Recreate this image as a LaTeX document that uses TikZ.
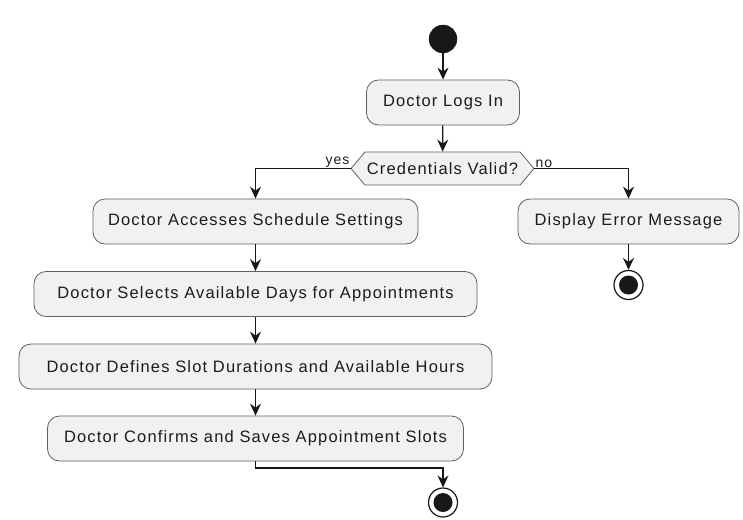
\documentclass[tikz,border=0pt]{standalone}
\usepackage{fontspec}
\setmainfont{Liberation Sans}[LetterSpace=7]
\usetikzlibrary{shapes.symbols, arrows.meta}
\definecolor{actfill}{HTML}{F1F1F1}
\definecolor{actline}{HTML}{606060}
\definecolor{flow}{HTML}{181818}
\definecolor{txt}{HTML}{1C1C1C}
\begin{document}
\begin{tikzpicture}[x=1pt, y=-1pt,
  action/.style={draw=actline, fill=actfill, rounded corners=12pt, line width=0.8pt,
    minimum height=45pt, inner xsep=10pt, inner ysep=0pt, text=txt,
    font=\fontsize{16.5}{19}\selectfont},
  decision/.style={signal, signal to=east and west, signal pointer angle=100,
    draw=actline, fill=actfill, line width=0.8pt, minimum height=33pt,
    inner xsep=2pt, inner ysep=0pt, text=txt, font=\fontsize{16.5}{19}\selectfont},
  startdot/.style={circle, fill=flow, draw=flow, minimum size=28pt, inner sep=0pt},
  enddot/.style={circle, draw=flow, fill=white, line width=1.2pt, minimum size=29pt,
    inner sep=0pt, path picture={\fill[flow] (path picture bounding box.center) circle (9.5pt);}},
  flowline/.style={draw=flow, line width=1.3pt, -{Stealth[length=12pt, width=11pt, inset=4pt]}},
  guard/.style={font=\fontsize{14}{16}\selectfont, text=txt, inner sep=1pt}
]
\useasboundingbox (0,0) rectangle (743,519);

% start and login
\node[startdot] (start) at (443,39) {};
\node[action, minimum width=153pt] (login) at (443,102.5) {Doctor Logs In};
\node[decision, minimum width=179pt] (cred) at (442.5,168.5) {Credentials Valid?};

% valid branch
\node[action, minimum width=325pt] (access) at (255.5,221.5) {Doctor Accesses Schedule Settings};
\node[action, minimum width=443pt] (select) at (255.5,294) {Doctor Selects Available Days for Appointments};
\node[action, minimum width=473pt] (define) at (255.5,366.5) {Doctor Defines Slot Durations and Available Hours};
\node[action, minimum width=416pt] (confirm) at (255.5,438.5) {Doctor Confirms and Saves Appointment Slots};
\node[enddot] (endok) at (443,502.5) {};

% invalid branch
\node[action, minimum width=221pt] (error) at (628.5,221.5) {Display Error Message};
\node[enddot] (enderr) at (628.5,285) {};

% connectors
\draw[flowline] (start) -- (login);
\draw[flowline] (login) -- (cred);
\draw[flowline] (cred.west) -| (access.north);
\draw[flowline] (cred.east) -| (error.north);
\draw[flowline] (error) -- (enderr);
\draw[flowline] (access) -- (select);
\draw[flowline] (select) -- (define);
\draw[flowline] (define) -- (confirm);
\coordinate (bend) at (255.5,468);
\draw[flowline] (confirm.south) -- (bend) -| (endok.north);

% guard labels
\node[guard, anchor=south east] (yeslbl) at (cred.west) {yes};
\node[guard, anchor=south west] (nolbl) at (cred.east) {no};
\end{tikzpicture}
\end{document}
